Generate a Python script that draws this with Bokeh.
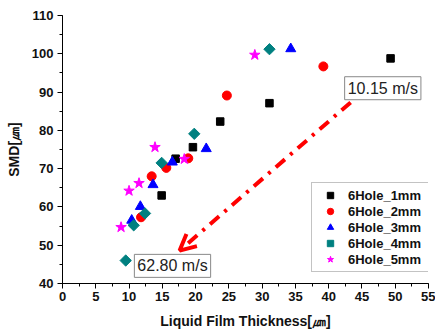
import math
from bokeh.plotting import figure
from bokeh.models import (Legend, LegendItem, Label, Arrow,
                          OpenHead, SingleIntervalTicker, Range1d)
from bokeh.embed import file_html
from bokeh.resources import INLINE

# ---- data ----
x_1mm = [14.9, 17.0, 19.6, 23.7, 31.1, 49.3]
y_1mm = [63.0, 72.6, 75.6, 82.3, 87.1, 98.8]
x_2mm = [11.8, 13.4, 15.6, 18.9, 24.7, 39.2]
y_2mm = [57.3, 68.0, 70.2, 72.7, 89.1, 96.7]
x_3mm = [10.4, 11.7, 13.6, 16.5, 21.6, 34.3]
y_3mm = [56.5, 60.1, 65.8, 71.7, 75.2, 101.3]
x_4mm = [9.5, 10.7, 12.4, 14.9, 19.8, 31.1]
y_4mm = [46.0, 55.2, 58.3, 71.5, 79.1, 101.2]
x_5mm = [8.8, 10.0, 11.5, 13.9, 18.3, 28.9]
y_5mm = [54.7, 64.2, 66.2, 75.6, 72.5, 99.7]

series_names = ["6Hole_1mm", "6Hole_2mm", "6Hole_3mm", "6Hole_4mm", "6Hole_5mm"]

# annotation positions (data units)
arrow_start = (43.3, 87.3)
arrow_end = (17.6, 48.6)
label_hi = "10.15 m/s"
label_hi_pos = (42.4, 88.0)
label_lo = "62.80 m/s"
label_lo_pos = (10.8, 41.6)

FONT = "Liberation Sans"

p = figure(width=435, height=332, output_backend="svg", toolbar_location=None,
           x_range=Range1d(0, 55), y_range=Range1d(40, 110),
           min_border_left=62, min_border_right=7, min_border_top=15,
           min_border_bottom=49)
p.title.visible = False
p.outline_line_color = None
p.xgrid.visible = False
p.ygrid.visible = False
p.background_fill_color = "white"
p.border_fill_color = "white"

p.xaxis.ticker = SingleIntervalTicker(interval=5, num_minor_ticks=2)
p.yaxis.ticker = SingleIntervalTicker(interval=10, num_minor_ticks=2)
for ax in (p.xaxis[0], p.yaxis[0]):
    ax.axis_line_color = "black"
    ax.major_tick_line_color = "black"
    ax.minor_tick_line_color = "black"
    ax.major_tick_out = 5
    ax.major_tick_in = 0
    ax.minor_tick_out = 3
    ax.minor_tick_in = 0
    ax.major_label_text_font = FONT
    ax.major_label_text_font_style = "bold"
    ax.major_label_text_font_size = "13px"
    ax.major_label_text_color = "#111111"
    ax.axis_label_text_font = FONT
    ax.axis_label_text_font_style = "bold"
    ax.axis_label_text_font_size = "14px"
    ax.axis_label_text_color = "#111111"

p.xaxis.axis_label = "Liquid Film Thickness[㎛]"
p.yaxis.axis_label = "SMD[㎛]"
p.xaxis.major_label_standoff = 3
p.yaxis.major_label_standoff = 4
p.xaxis.axis_label_standoff = 9
p.yaxis.axis_label_standoff = 7

r1 = p.scatter(x_1mm, y_1mm, marker="square", size=7.5, color="black")
r2 = p.scatter(x_2mm, y_2mm, marker="circle", size=9, color="red")
r3 = p.scatter(x_3mm, y_3mm, marker="triangle", size=10, color="blue")
r4 = p.scatter(x_4mm, y_4mm, marker="square", angle=math.pi / 4, size=8,
               color="#008080")
r5 = p.scatter(x_5mm, y_5mm, marker="star", size=11, color="magenta")

legend = Legend(items=[LegendItem(label=n, renderers=[r])
                       for n, r in zip(series_names, [r1, r2, r3, r4, r5])],
                location=(249, 11))
legend.border_line_color = "#888888"
legend.border_line_width = 1
legend.padding = 4
legend.spacing = 0
legend.label_height = 16
legend.label_width = 76
legend.glyph_height = 16
legend.glyph_width = 28
legend.label_standoff = 4
legend.label_text_font = FONT
legend.label_text_font_style = "bold"
legend.label_text_font_size = "13px"
legend.label_text_color = "#111111"
legend.margin = 0
p.add_layout(legend, "center")

arrow = Arrow(x_start=arrow_start[0], y_start=arrow_start[1],
              x_end=arrow_end[0], y_end=arrow_end[1],
              line_color="red", line_width=4, line_dash="12 7 3 7",
              end=OpenHead(line_color="red", line_width=4, size=16))
p.add_layout(arrow)

for txt, pos in ((label_hi, label_hi_pos), (label_lo, label_lo_pos)):
    lab = Label(x=pos[0], y=pos[1], text=txt, text_font=FONT,
                text_font_size="16px", text_color="#222222",
                text_align="left", text_baseline="bottom",
                border_line_color="#888888", border_line_width=1,
                background_fill_color="white", padding=3)
    p.add_layout(lab)

open("out.html", "w").write(file_html(p, INLINE))
